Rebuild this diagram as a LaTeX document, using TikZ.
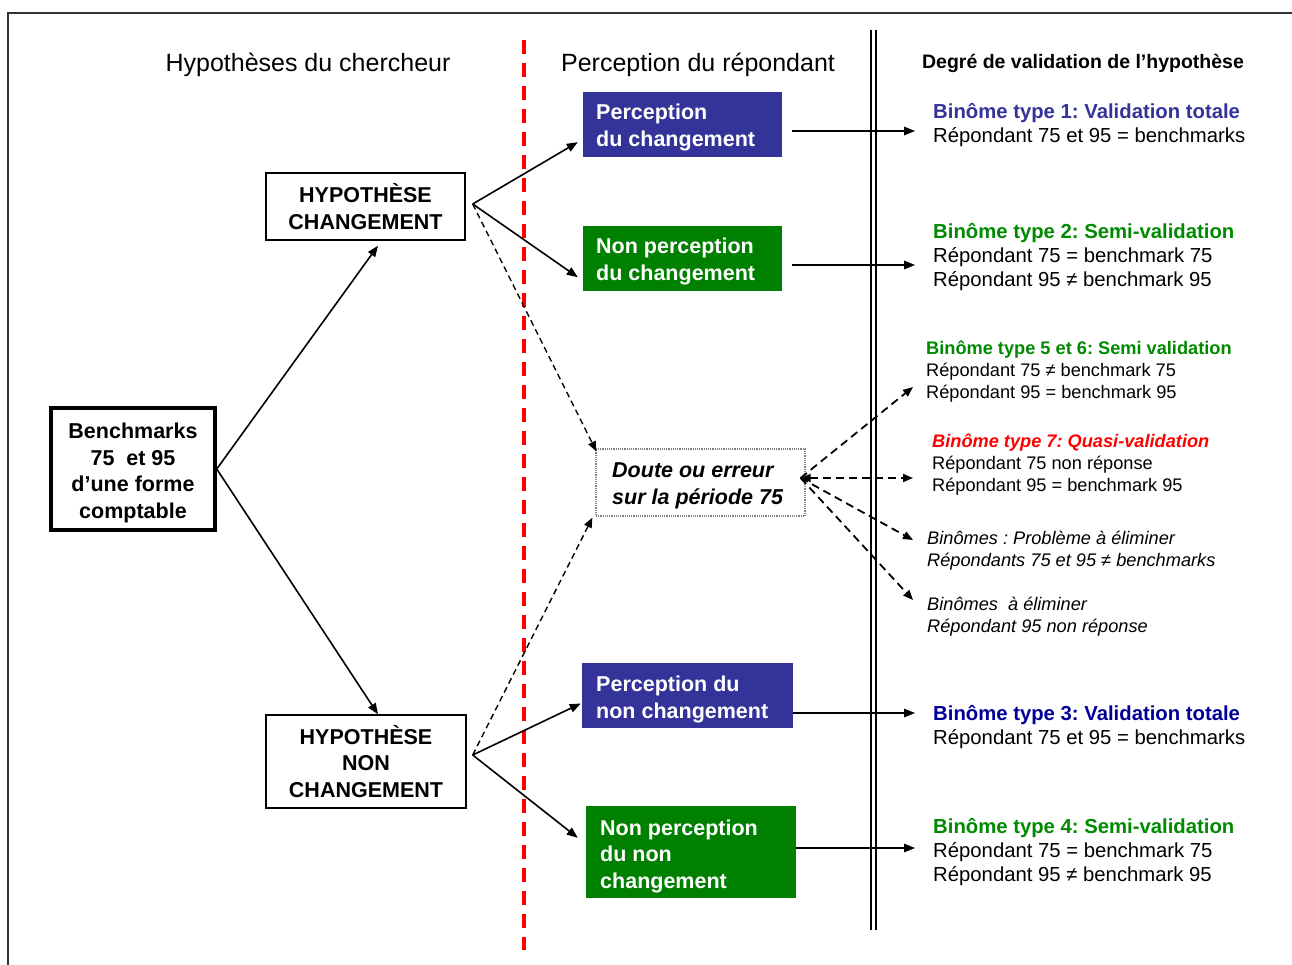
\documentclass[tikz,border=0pt]{standalone}
\usepackage{fontspec}
\setmainfont{Liberation Sans}
\usetikzlibrary{arrows.meta,calc}
\frenchspacing
\definecolor{boxblue}{HTML}{333399}
\definecolor{deepblue}{HTML}{000099}
\definecolor{boxgreen}{HTML}{008000}
\definecolor{txtgreen}{HTML}{008A00}
\definecolor{framegray}{HTML}{333333}
\tikzset{
  hdr/.style={font=\fontsize{25}{30}\selectfont, inner sep=0},
  hypbox/.style={draw, line width=1.4pt, align=center, inner sep=0,
    font=\bfseries\fontsize{21.5}{26.5}\selectfont},
  boxtext/.style={align=left, inner sep=0,
    font=\bfseries\fontsize{21.5}{26.5}\selectfont},
  colbox/.style={inner sep=0},
  rtxt/.style={anchor=west, align=left, inner sep=0,
    font=\fontsize{20.3}{24}\selectfont},
  rtxts/.style={anchor=west, align=left, inner sep=0,
    font=\fontsize{18.2}{22}\selectfont},
  solidarrow/.style={-{Triangle[length=11pt,width=8.5pt]}, line width=1.6pt},
  dasharrow/.style={-{Triangle[length=10pt,width=8pt]}, line width=1.4pt, dash pattern=on 6pt off 4pt},
  dasharrowb/.style={-{Triangle[length=10pt,width=8pt]}, line width=1.8pt, dash pattern=on 8pt off 5pt},
}
\begin{document}
\begin{tikzpicture}[x=1pt,y=-1pt]
\useasboundingbox (0,0) rectangle (1292,965);
% frame
\draw[framegray, line width=2pt] (8,965) -- (8,13) -- (1292,13);
% separators
\draw[red, line width=3.5pt, dash pattern=on 14pt off 9pt] (524,40) -- (524,950);
\draw[line width=1.8pt] (871,30) -- (871,930);
\draw[line width=1.8pt] (876,30) -- (876,930);
% headers
\node[hdr] (h1) at (308,65) {Hypothèses du chercheur};
\node[hdr] (h2) at (698,65) {Perception du répondant};
\node[inner sep=0, font=\bfseries\fontsize{19.5}{23}\selectfont] (h3) at (1083,63) {Degré de validation de l’hypothèse};
% left boxes
\node[draw, line width=3.5pt, minimum width=164pt, minimum height=122pt] (bm) at (133,469) {};
\node[boxtext, align=center] (bmt) at (133,473) {Benchmarks\\75\ \ et 95\\d’une forme\\comptable};
\node[hypbox, minimum width=199pt, minimum height=67pt] (hc) at (365.5,206.5) {HYPOTHÈSE\\CHANGEMENT};
\node[hypbox, minimum width=200pt, minimum height=93pt] (hn) at (366,761.5) {HYPOTHÈSE\\NON\\CHANGEMENT};
% perception boxes
\node[colbox, fill=boxblue, minimum width=199pt, minimum height=65pt] (b1) at (682.5,124.5) {};
\node[boxtext, text=white, anchor=west] (b1t) at (596,127.5) {Perception\\du changement};
\node[colbox, fill=boxgreen, minimum width=199pt, minimum height=65pt] (g1) at (682.5,258.5) {};
\node[boxtext, text=white, anchor=west] (g1t) at (596,261.5) {Non perception\\du changement};
\node[colbox, fill=boxblue, minimum width=211pt, minimum height=65pt] (b3) at (687.5,695.5) {};
\node[boxtext, text=white, anchor=west] (b3t) at (596,699.5) {Perception du\\non changement};
\node[colbox, fill=boxgreen, minimum width=210pt, minimum height=92pt] (g3) at (691,852) {};
\node[boxtext, text=white, anchor=west] (g3t) at (600,856) {Non perception\\du non\\changement};
\node[draw=gray, densely dotted, line width=1.2pt, minimum width=209pt, minimum height=67pt, inner sep=0] (d) at (700.5,482.5) {};
\node[boxtext, font=\bfseries\itshape\fontsize{21.5}{26.5}\selectfont, anchor=west] (dt) at (612,486) {Doute ou erreur\\sur la période 75};
% right texts
\node[rtxt] (t1) at (933,125) {\textbf{\textcolor{boxblue}{Binôme type 1: Validation totale}}\\Répondant 75 et 95 = benchmarks};
\node[rtxt] (t2) at (933,257) {\textbf{\textcolor{txtgreen}{Binôme type 2: Semi-validation}}\\Répondant 75 = benchmark 75\\Répondant 95 ≠ benchmark 95};
\node[rtxts] (t5) at (926,372) {\textbf{\textcolor{txtgreen}{Binôme type 5 et 6: Semi validation}}\\Répondant 75 ≠ benchmark 75\\Répondant 95 = benchmark 95};
\node[rtxts] (t7) at (932,465) {\textbf{\itshape\textcolor{red}{Binôme type 7: Quasi-validation}}\\Répondant 75 non réponse\\Répondant 95 = benchmark 95};
\node[rtxts, font=\itshape\fontsize{18.2}{22}\selectfont] (tp) at (927,551) {Binômes : Problème à éliminer\\Répondants 75 et 95 ≠ benchmarks};
\node[rtxts, font=\itshape\fontsize{18.2}{22}\selectfont] (te) at (927,617) {Binômes\ \ à éliminer\\Répondant 95 non réponse};
\node[rtxt] (t3) at (933,727) {\textbf{\textcolor{deepblue}{Binôme type 3: Validation totale}}\\Répondant 75 et 95 = benchmarks};
\node[rtxt] (t4) at (933,852) {\textbf{\textcolor{txtgreen}{Binôme type 4: Semi-validation}}\\Répondant 75 = benchmark 75\\Répondant 95 ≠ benchmark 95};
% connector points
\coordinate (hcR) at ([shift={(7,-2.5)}]hc.east);
\coordinate (hnR) at ([shift={(6,-6.5)}]hn.east);
\coordinate (dR) at ([shift={(-5,-4.5)}]d.east);
\coordinate (e1) at (915,131);
\coordinate (e2) at (915,265);
\coordinate (e3) at (915,713);
\coordinate (e4) at (915,848);
\coordinate (e5) at (913,387);
\coordinate (e7) at (913,478);
\coordinate (ep) at (913,540);
\coordinate (ee) at (913,600);
% solid arrows
\draw[solidarrow] (bm.east) -- ([shift={(12.5,5)}]hc.south);
\draw[solidarrow] (bm.east) -- ([xshift=12]hn.north);
\draw[solidarrow] (hcR) -- ([shift={(-5,-15)}]b1.south west);
\draw[solidarrow] (hcR) -- ([shift={(-5,-14)}]g1.south west);
\draw[solidarrow] (hnR) -- ([shift={(-1,8)}]b3.west);
\draw[solidarrow] (hnR) -- ([shift={(-8,32)}]g3.north west);
\draw[solidarrow] ([shift={(10,6.5)}]b1.east) -- (e1);
\draw[solidarrow] ([shift={(10,6.5)}]g1.east) -- (e2);
\draw[solidarrow] ([shift={(0,17.5)}]b3.east) -- (e3);
\draw[solidarrow] ([shift={(0,-4)}]g3.east) -- (e4);
% dashed arrows
\draw[dasharrow] (hcR) -- ([shift={(1,3)}]d.north west);
\draw[dasharrow] (hnR) -- ([shift={(-3,1)}]d.south west);
\draw[dasharrowb] (dR) -- (e5);
\draw[dasharrowb, {Triangle[length=10pt,width=8pt]}-{Triangle[length=10pt,width=8pt]}] (dR) -- (e7);
\draw[dasharrowb] (dR) -- (ep);
\draw[dasharrowb] (dR) -- (ee);
\end{tikzpicture}
\end{document}
